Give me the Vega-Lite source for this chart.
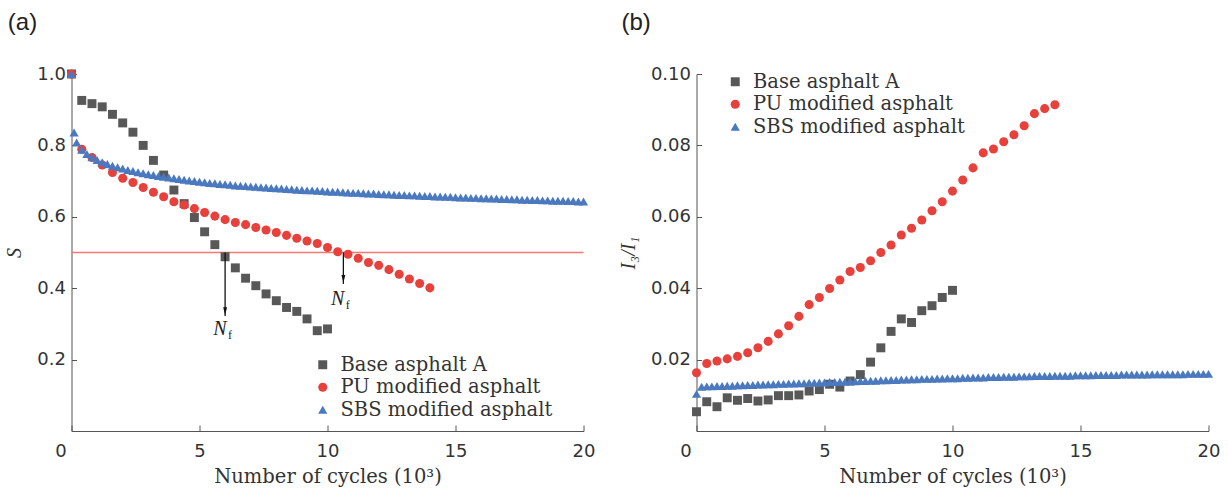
{
  "$schema": "https://vega.github.io/schema/vega-lite/v6.json",
  "padding": {"left": 4.5, "top": 11, "right": 5, "bottom": 5},
  "spacing": 22,
  "background": "white",
  "resolve": {
    "scale": {"color": "independent", "shape": "independent", "size": "independent"},
    "legend": {"color": "independent", "shape": "independent", "size": "independent"}
  },
  "config": {
    "view": {"stroke": null},
    "axis": {
      "grid": false,
      "domainColor": "#555555",
      "tickColor": "#555555",
      "labelColor": "#333333",
      "titleColor": "#333333",
      "labelFont": "DejaVu Sans",
      "labelFontSize": 18,
      "titleFontWeight": "normal"
    },
    "legend": {
      "labelFont": "DejaVu Serif",
      "labelFontSize": 19.5,
      "labelColor": "#333333",
      "labelLimit": 0,
      "symbolSize": 45,
      "rowPadding": 1.5,
      "labelOffset": 8,
      "title": null
    },
    "title": {"font": "Liberation Sans", "fontSize": 24, "fontWeight": "normal", "color": "#222222", "anchor": "start", "frame": "bounds", "dx": 3}
  },
  "datasets": {
    "a": [
      {"x":0,"y":1.0,"s":"Base asphalt A"},{"x":0.4,"y":0.926,"s":"Base asphalt A"},{"x":0.8,"y":0.917,"s":"Base asphalt A"},{"x":1.2,"y":0.908,"s":"Base asphalt A"},{"x":1.6,"y":0.887,"s":"Base asphalt A"},{"x":2.0,"y":0.863,"s":"Base asphalt A"},{"x":2.4,"y":0.837,"s":"Base asphalt A"},{"x":2.8,"y":0.800,"s":"Base asphalt A"},{"x":3.2,"y":0.758,"s":"Base asphalt A"},{"x":3.6,"y":0.717,"s":"Base asphalt A"},{"x":4.0,"y":0.675,"s":"Base asphalt A"},{"x":4.4,"y":0.637,"s":"Base asphalt A"},{"x":4.8,"y":0.598,"s":"Base asphalt A"},{"x":5.2,"y":0.558,"s":"Base asphalt A"},{"x":5.6,"y":0.522,"s":"Base asphalt A"},{"x":6.0,"y":0.488,"s":"Base asphalt A"},{"x":6.4,"y":0.457,"s":"Base asphalt A"},{"x":6.8,"y":0.428,"s":"Base asphalt A"},{"x":7.2,"y":0.407,"s":"Base asphalt A"},{"x":7.6,"y":0.384,"s":"Base asphalt A"},{"x":8.0,"y":0.365,"s":"Base asphalt A"},{"x":8.4,"y":0.346,"s":"Base asphalt A"},{"x":8.8,"y":0.335,"s":"Base asphalt A"},{"x":9.2,"y":0.314,"s":"Base asphalt A"},{"x":9.6,"y":0.281,"s":"Base asphalt A"},{"x":10.0,"y":0.286,"s":"Base asphalt A"},
      {"x":0,"y":1.0,"s":"PU modified asphalt"},{"x":0.4,"y":0.789,"s":"PU modified asphalt"},{"x":0.8,"y":0.766,"s":"PU modified asphalt"},{"x":1.2,"y":0.745,"s":"PU modified asphalt"},{"x":1.6,"y":0.724,"s":"PU modified asphalt"},{"x":2.0,"y":0.708,"s":"PU modified asphalt"},{"x":2.4,"y":0.696,"s":"PU modified asphalt"},{"x":2.8,"y":0.682,"s":"PU modified asphalt"},{"x":3.2,"y":0.669,"s":"PU modified asphalt"},{"x":3.6,"y":0.656,"s":"PU modified asphalt"},{"x":4.0,"y":0.642,"s":"PU modified asphalt"},{"x":4.4,"y":0.633,"s":"PU modified asphalt"},{"x":4.8,"y":0.623,"s":"PU modified asphalt"},{"x":5.2,"y":0.612,"s":"PU modified asphalt"},{"x":5.6,"y":0.602,"s":"PU modified asphalt"},{"x":6.0,"y":0.592,"s":"PU modified asphalt"},{"x":6.4,"y":0.584,"s":"PU modified asphalt"},{"x":6.8,"y":0.578,"s":"PU modified asphalt"},{"x":7.2,"y":0.570,"s":"PU modified asphalt"},{"x":7.6,"y":0.563,"s":"PU modified asphalt"},{"x":8.0,"y":0.556,"s":"PU modified asphalt"},{"x":8.4,"y":0.548,"s":"PU modified asphalt"},{"x":8.8,"y":0.540,"s":"PU modified asphalt"},{"x":9.2,"y":0.532,"s":"PU modified asphalt"},{"x":9.6,"y":0.525,"s":"PU modified asphalt"},{"x":10.0,"y":0.514,"s":"PU modified asphalt"},{"x":10.4,"y":0.502,"s":"PU modified asphalt"},{"x":10.8,"y":0.495,"s":"PU modified asphalt"},{"x":11.2,"y":0.484,"s":"PU modified asphalt"},{"x":11.6,"y":0.472,"s":"PU modified asphalt"},{"x":12.0,"y":0.464,"s":"PU modified asphalt"},{"x":12.4,"y":0.452,"s":"PU modified asphalt"},{"x":12.8,"y":0.439,"s":"PU modified asphalt"},{"x":13.2,"y":0.426,"s":"PU modified asphalt"},{"x":13.6,"y":0.413,"s":"PU modified asphalt"},{"x":14.0,"y":0.401,"s":"PU modified asphalt"},
      {"x":0,"y":1.0,"s":"SBS modified asphalt"},{"x":0.1,"y":0.836,"s":"SBS modified asphalt"},{"x":0.2,"y":0.808,"s":"SBS modified asphalt"},{"x":0.4,"y":0.788,"s":"SBS modified asphalt"},{"x":0.6,"y":0.776,"s":"SBS modified asphalt"},{"x":0.8,"y":0.767,"s":"SBS modified asphalt"},{"x":1.0,"y":0.759,"s":"SBS modified asphalt"},{"x":1.2,"y":0.753,"s":"SBS modified asphalt"},{"x":1.4,"y":0.748,"s":"SBS modified asphalt"},{"x":1.6,"y":0.743,"s":"SBS modified asphalt"},{"x":1.8,"y":0.739,"s":"SBS modified asphalt"},{"x":2.0,"y":0.735,"s":"SBS modified asphalt"},{"x":2.2,"y":0.731,"s":"SBS modified asphalt"},{"x":2.4,"y":0.728,"s":"SBS modified asphalt"},{"x":2.6,"y":0.725,"s":"SBS modified asphalt"},{"x":2.8,"y":0.722,"s":"SBS modified asphalt"},{"x":3.0,"y":0.719,"s":"SBS modified asphalt"},{"x":3.2,"y":0.717,"s":"SBS modified asphalt"},{"x":3.4,"y":0.714,"s":"SBS modified asphalt"},{"x":3.6,"y":0.712,"s":"SBS modified asphalt"},{"x":3.8,"y":0.710,"s":"SBS modified asphalt"},{"x":4.0,"y":0.708,"s":"SBS modified asphalt"},{"x":4.2,"y":0.706,"s":"SBS modified asphalt"},{"x":4.4,"y":0.704,"s":"SBS modified asphalt"},{"x":4.6,"y":0.702,"s":"SBS modified asphalt"},{"x":4.8,"y":0.700,"s":"SBS modified asphalt"},{"x":5.0,"y":0.698,"s":"SBS modified asphalt"},{"x":5.2,"y":0.697,"s":"SBS modified asphalt"},{"x":5.4,"y":0.695,"s":"SBS modified asphalt"},{"x":5.6,"y":0.694,"s":"SBS modified asphalt"},{"x":5.8,"y":0.692,"s":"SBS modified asphalt"},{"x":6.0,"y":0.691,"s":"SBS modified asphalt"},{"x":6.2,"y":0.690,"s":"SBS modified asphalt"},{"x":6.4,"y":0.688,"s":"SBS modified asphalt"},{"x":6.6,"y":0.687,"s":"SBS modified asphalt"},{"x":6.8,"y":0.686,"s":"SBS modified asphalt"},{"x":7.0,"y":0.685,"s":"SBS modified asphalt"},{"x":7.2,"y":0.684,"s":"SBS modified asphalt"},{"x":7.4,"y":0.683,"s":"SBS modified asphalt"},{"x":7.6,"y":0.682,"s":"SBS modified asphalt"},{"x":7.8,"y":0.681,"s":"SBS modified asphalt"},{"x":8.0,"y":0.680,"s":"SBS modified asphalt"},{"x":8.2,"y":0.679,"s":"SBS modified asphalt"},{"x":8.4,"y":0.678,"s":"SBS modified asphalt"},{"x":8.6,"y":0.677,"s":"SBS modified asphalt"},{"x":8.8,"y":0.676,"s":"SBS modified asphalt"},{"x":9.0,"y":0.675,"s":"SBS modified asphalt"},{"x":9.2,"y":0.674,"s":"SBS modified asphalt"},{"x":9.4,"y":0.674,"s":"SBS modified asphalt"},{"x":9.6,"y":0.673,"s":"SBS modified asphalt"},{"x":9.8,"y":0.672,"s":"SBS modified asphalt"},{"x":10.0,"y":0.671,"s":"SBS modified asphalt"},{"x":10.2,"y":0.670,"s":"SBS modified asphalt"},{"x":10.4,"y":0.670,"s":"SBS modified asphalt"},{"x":10.6,"y":0.669,"s":"SBS modified asphalt"},{"x":10.8,"y":0.668,"s":"SBS modified asphalt"},{"x":11.0,"y":0.667,"s":"SBS modified asphalt"},{"x":11.2,"y":0.667,"s":"SBS modified asphalt"},{"x":11.4,"y":0.666,"s":"SBS modified asphalt"},{"x":11.6,"y":0.665,"s":"SBS modified asphalt"},{"x":11.8,"y":0.665,"s":"SBS modified asphalt"},{"x":12.0,"y":0.664,"s":"SBS modified asphalt"},{"x":12.2,"y":0.663,"s":"SBS modified asphalt"},{"x":12.4,"y":0.663,"s":"SBS modified asphalt"},{"x":12.6,"y":0.662,"s":"SBS modified asphalt"},{"x":12.8,"y":0.661,"s":"SBS modified asphalt"},{"x":13.0,"y":0.661,"s":"SBS modified asphalt"},{"x":13.2,"y":0.660,"s":"SBS modified asphalt"},{"x":13.4,"y":0.660,"s":"SBS modified asphalt"},{"x":13.6,"y":0.659,"s":"SBS modified asphalt"},{"x":13.8,"y":0.658,"s":"SBS modified asphalt"},{"x":14.0,"y":0.658,"s":"SBS modified asphalt"},{"x":14.2,"y":0.657,"s":"SBS modified asphalt"},{"x":14.4,"y":0.657,"s":"SBS modified asphalt"},{"x":14.6,"y":0.656,"s":"SBS modified asphalt"},{"x":14.8,"y":0.656,"s":"SBS modified asphalt"},{"x":15.0,"y":0.655,"s":"SBS modified asphalt"},{"x":15.2,"y":0.654,"s":"SBS modified asphalt"},{"x":15.4,"y":0.654,"s":"SBS modified asphalt"},{"x":15.6,"y":0.653,"s":"SBS modified asphalt"},{"x":15.8,"y":0.653,"s":"SBS modified asphalt"},{"x":16.0,"y":0.652,"s":"SBS modified asphalt"},{"x":16.2,"y":0.652,"s":"SBS modified asphalt"},{"x":16.4,"y":0.651,"s":"SBS modified asphalt"},{"x":16.6,"y":0.651,"s":"SBS modified asphalt"},{"x":16.8,"y":0.650,"s":"SBS modified asphalt"},{"x":17.0,"y":0.650,"s":"SBS modified asphalt"},{"x":17.2,"y":0.649,"s":"SBS modified asphalt"},{"x":17.4,"y":0.649,"s":"SBS modified asphalt"},{"x":17.6,"y":0.648,"s":"SBS modified asphalt"},{"x":17.8,"y":0.648,"s":"SBS modified asphalt"},{"x":18.0,"y":0.647,"s":"SBS modified asphalt"},{"x":18.2,"y":0.647,"s":"SBS modified asphalt"},{"x":18.4,"y":0.646,"s":"SBS modified asphalt"},{"x":18.6,"y":0.646,"s":"SBS modified asphalt"},{"x":18.8,"y":0.645,"s":"SBS modified asphalt"},{"x":19.0,"y":0.645,"s":"SBS modified asphalt"},{"x":19.2,"y":0.645,"s":"SBS modified asphalt"},{"x":19.4,"y":0.644,"s":"SBS modified asphalt"},{"x":19.6,"y":0.644,"s":"SBS modified asphalt"},{"x":19.8,"y":0.643,"s":"SBS modified asphalt"},{"x":20.0,"y":0.643,"s":"SBS modified asphalt"}
    ],
    "b": [
      {"x":0,"y":0.0054,"s":"Base asphalt A"},{"x":0.4,"y":0.0082,"s":"Base asphalt A"},{"x":0.8,"y":0.0068,"s":"Base asphalt A"},{"x":1.2,"y":0.0093,"s":"Base asphalt A"},{"x":1.6,"y":0.0086,"s":"Base asphalt A"},{"x":2.0,"y":0.0091,"s":"Base asphalt A"},{"x":2.4,"y":0.0084,"s":"Base asphalt A"},{"x":2.8,"y":0.0087,"s":"Base asphalt A"},{"x":3.2,"y":0.0099,"s":"Base asphalt A"},{"x":3.6,"y":0.0099,"s":"Base asphalt A"},{"x":4.0,"y":0.0101,"s":"Base asphalt A"},{"x":4.4,"y":0.0112,"s":"Base asphalt A"},{"x":4.8,"y":0.0116,"s":"Base asphalt A"},{"x":5.2,"y":0.0131,"s":"Base asphalt A"},{"x":5.6,"y":0.0123,"s":"Base asphalt A"},{"x":6.0,"y":0.0140,"s":"Base asphalt A"},{"x":6.4,"y":0.0158,"s":"Base asphalt A"},{"x":6.8,"y":0.0193,"s":"Base asphalt A"},{"x":7.2,"y":0.0233,"s":"Base asphalt A"},{"x":7.6,"y":0.0279,"s":"Base asphalt A"},{"x":8.0,"y":0.0314,"s":"Base asphalt A"},{"x":8.4,"y":0.0304,"s":"Base asphalt A"},{"x":8.8,"y":0.0337,"s":"Base asphalt A"},{"x":9.2,"y":0.0351,"s":"Base asphalt A"},{"x":9.6,"y":0.0374,"s":"Base asphalt A"},{"x":10.0,"y":0.0394,"s":"Base asphalt A"},
      {"x":0,"y":0.0163,"s":"PU modified asphalt"},{"x":0.4,"y":0.0189,"s":"PU modified asphalt"},{"x":0.8,"y":0.0196,"s":"PU modified asphalt"},{"x":1.2,"y":0.0202,"s":"PU modified asphalt"},{"x":1.6,"y":0.0209,"s":"PU modified asphalt"},{"x":2.0,"y":0.0219,"s":"PU modified asphalt"},{"x":2.4,"y":0.0233,"s":"PU modified asphalt"},{"x":2.8,"y":0.0251,"s":"PU modified asphalt"},{"x":3.2,"y":0.0272,"s":"PU modified asphalt"},{"x":3.6,"y":0.0295,"s":"PU modified asphalt"},{"x":4.0,"y":0.0321,"s":"PU modified asphalt"},{"x":4.4,"y":0.0354,"s":"PU modified asphalt"},{"x":4.8,"y":0.0374,"s":"PU modified asphalt"},{"x":5.2,"y":0.0399,"s":"PU modified asphalt"},{"x":5.6,"y":0.0423,"s":"PU modified asphalt"},{"x":6.0,"y":0.0447,"s":"PU modified asphalt"},{"x":6.4,"y":0.0458,"s":"PU modified asphalt"},{"x":6.8,"y":0.0477,"s":"PU modified asphalt"},{"x":7.2,"y":0.0500,"s":"PU modified asphalt"},{"x":7.6,"y":0.0521,"s":"PU modified asphalt"},{"x":8.0,"y":0.0549,"s":"PU modified asphalt"},{"x":8.4,"y":0.0568,"s":"PU modified asphalt"},{"x":8.8,"y":0.0591,"s":"PU modified asphalt"},{"x":9.2,"y":0.0617,"s":"PU modified asphalt"},{"x":9.6,"y":0.0642,"s":"PU modified asphalt"},{"x":10.0,"y":0.0672,"s":"PU modified asphalt"},{"x":10.4,"y":0.0703,"s":"PU modified asphalt"},{"x":10.8,"y":0.0737,"s":"PU modified asphalt"},{"x":11.2,"y":0.0779,"s":"PU modified asphalt"},{"x":11.6,"y":0.0790,"s":"PU modified asphalt"},{"x":12.0,"y":0.0810,"s":"PU modified asphalt"},{"x":12.4,"y":0.0830,"s":"PU modified asphalt"},{"x":12.8,"y":0.0855,"s":"PU modified asphalt"},{"x":13.2,"y":0.0889,"s":"PU modified asphalt"},{"x":13.6,"y":0.0903,"s":"PU modified asphalt"},{"x":14.0,"y":0.0914,"s":"PU modified asphalt"},
      {"x":0,"y":0.0104,"s":"SBS modified asphalt"},{"x":0.2,"y":0.0124,"s":"SBS modified asphalt"},{"x":0.4,"y":0.0125,"s":"SBS modified asphalt"},{"x":0.6,"y":0.0125,"s":"SBS modified asphalt"},{"x":0.8,"y":0.0126,"s":"SBS modified asphalt"},{"x":1.0,"y":0.0126,"s":"SBS modified asphalt"},{"x":1.2,"y":0.0127,"s":"SBS modified asphalt"},{"x":1.4,"y":0.0127,"s":"SBS modified asphalt"},{"x":1.6,"y":0.0128,"s":"SBS modified asphalt"},{"x":1.8,"y":0.0128,"s":"SBS modified asphalt"},{"x":2.0,"y":0.0129,"s":"SBS modified asphalt"},{"x":2.2,"y":0.0129,"s":"SBS modified asphalt"},{"x":2.4,"y":0.0130,"s":"SBS modified asphalt"},{"x":2.6,"y":0.0130,"s":"SBS modified asphalt"},{"x":2.8,"y":0.0131,"s":"SBS modified asphalt"},{"x":3.0,"y":0.0131,"s":"SBS modified asphalt"},{"x":3.2,"y":0.0132,"s":"SBS modified asphalt"},{"x":3.4,"y":0.0132,"s":"SBS modified asphalt"},{"x":3.6,"y":0.0133,"s":"SBS modified asphalt"},{"x":3.8,"y":0.0133,"s":"SBS modified asphalt"},{"x":4.0,"y":0.0134,"s":"SBS modified asphalt"},{"x":4.2,"y":0.0134,"s":"SBS modified asphalt"},{"x":4.4,"y":0.0135,"s":"SBS modified asphalt"},{"x":4.6,"y":0.0135,"s":"SBS modified asphalt"},{"x":4.8,"y":0.0136,"s":"SBS modified asphalt"},{"x":5.0,"y":0.0136,"s":"SBS modified asphalt"},{"x":5.2,"y":0.0137,"s":"SBS modified asphalt"},{"x":5.4,"y":0.0137,"s":"SBS modified asphalt"},{"x":5.6,"y":0.0138,"s":"SBS modified asphalt"},{"x":5.8,"y":0.0138,"s":"SBS modified asphalt"},{"x":6.0,"y":0.0139,"s":"SBS modified asphalt"},{"x":6.2,"y":0.0139,"s":"SBS modified asphalt"},{"x":6.4,"y":0.0140,"s":"SBS modified asphalt"},{"x":6.6,"y":0.0140,"s":"SBS modified asphalt"},{"x":6.8,"y":0.0141,"s":"SBS modified asphalt"},{"x":7.0,"y":0.0141,"s":"SBS modified asphalt"},{"x":7.2,"y":0.0142,"s":"SBS modified asphalt"},{"x":7.4,"y":0.0142,"s":"SBS modified asphalt"},{"x":7.6,"y":0.0143,"s":"SBS modified asphalt"},{"x":7.8,"y":0.0143,"s":"SBS modified asphalt"},{"x":8.0,"y":0.0144,"s":"SBS modified asphalt"},{"x":8.2,"y":0.0144,"s":"SBS modified asphalt"},{"x":8.4,"y":0.0145,"s":"SBS modified asphalt"},{"x":8.6,"y":0.0145,"s":"SBS modified asphalt"},{"x":8.8,"y":0.0146,"s":"SBS modified asphalt"},{"x":9.0,"y":0.0146,"s":"SBS modified asphalt"},{"x":9.2,"y":0.0146,"s":"SBS modified asphalt"},{"x":9.4,"y":0.0147,"s":"SBS modified asphalt"},{"x":9.6,"y":0.0147,"s":"SBS modified asphalt"},{"x":9.8,"y":0.0148,"s":"SBS modified asphalt"},{"x":10.0,"y":0.0148,"s":"SBS modified asphalt"},{"x":10.2,"y":0.0148,"s":"SBS modified asphalt"},{"x":10.4,"y":0.0149,"s":"SBS modified asphalt"},{"x":10.6,"y":0.0149,"s":"SBS modified asphalt"},{"x":10.8,"y":0.0150,"s":"SBS modified asphalt"},{"x":11.0,"y":0.0150,"s":"SBS modified asphalt"},{"x":11.2,"y":0.0150,"s":"SBS modified asphalt"},{"x":11.4,"y":0.0151,"s":"SBS modified asphalt"},{"x":11.6,"y":0.0151,"s":"SBS modified asphalt"},{"x":11.8,"y":0.0151,"s":"SBS modified asphalt"},{"x":12.0,"y":0.0152,"s":"SBS modified asphalt"},{"x":12.2,"y":0.0152,"s":"SBS modified asphalt"},{"x":12.4,"y":0.0152,"s":"SBS modified asphalt"},{"x":12.6,"y":0.0153,"s":"SBS modified asphalt"},{"x":12.8,"y":0.0153,"s":"SBS modified asphalt"},{"x":13.0,"y":0.0153,"s":"SBS modified asphalt"},{"x":13.2,"y":0.0154,"s":"SBS modified asphalt"},{"x":13.4,"y":0.0154,"s":"SBS modified asphalt"},{"x":13.6,"y":0.0154,"s":"SBS modified asphalt"},{"x":13.8,"y":0.0154,"s":"SBS modified asphalt"},{"x":14.0,"y":0.0155,"s":"SBS modified asphalt"},{"x":14.2,"y":0.0155,"s":"SBS modified asphalt"},{"x":14.4,"y":0.0155,"s":"SBS modified asphalt"},{"x":14.6,"y":0.0155,"s":"SBS modified asphalt"},{"x":14.8,"y":0.0156,"s":"SBS modified asphalt"},{"x":15.0,"y":0.0156,"s":"SBS modified asphalt"},{"x":15.2,"y":0.0156,"s":"SBS modified asphalt"},{"x":15.4,"y":0.0156,"s":"SBS modified asphalt"},{"x":15.6,"y":0.0157,"s":"SBS modified asphalt"},{"x":15.8,"y":0.0157,"s":"SBS modified asphalt"},{"x":16.0,"y":0.0157,"s":"SBS modified asphalt"},{"x":16.2,"y":0.0157,"s":"SBS modified asphalt"},{"x":16.4,"y":0.0157,"s":"SBS modified asphalt"},{"x":16.6,"y":0.0158,"s":"SBS modified asphalt"},{"x":16.8,"y":0.0158,"s":"SBS modified asphalt"},{"x":17.0,"y":0.0158,"s":"SBS modified asphalt"},{"x":17.2,"y":0.0158,"s":"SBS modified asphalt"},{"x":17.4,"y":0.0158,"s":"SBS modified asphalt"},{"x":17.6,"y":0.0158,"s":"SBS modified asphalt"},{"x":17.8,"y":0.0159,"s":"SBS modified asphalt"},{"x":18.0,"y":0.0159,"s":"SBS modified asphalt"},{"x":18.2,"y":0.0159,"s":"SBS modified asphalt"},{"x":18.4,"y":0.0159,"s":"SBS modified asphalt"},{"x":18.6,"y":0.0159,"s":"SBS modified asphalt"},{"x":18.8,"y":0.0159,"s":"SBS modified asphalt"},{"x":19.0,"y":0.0159,"s":"SBS modified asphalt"},{"x":19.2,"y":0.0160,"s":"SBS modified asphalt"},{"x":19.4,"y":0.0160,"s":"SBS modified asphalt"},{"x":19.6,"y":0.0160,"s":"SBS modified asphalt"},{"x":19.8,"y":0.0160,"s":"SBS modified asphalt"},{"x":20.0,"y":0.0160,"s":"SBS modified asphalt"}
    ],
    "ref": [{"x":0,"x2":20,"y":0.5}],
    "arrows": [{"x":6.0,"y":0.5,"y2":0.322,"yh":0.336},{"x":10.62,"y":0.5,"y2":0.412,"yh":0.426}],
    "nf": [{"x":5.8,"y":0.286},{"x":10.4,"y":0.37}]
  },
  "hconcat": [
    {
      "width": 512,
      "height": 357,
      "title": {"text": "(a)", "offset": 30},
      "layer": [
        {
          "data": {"name": "ref"},
          "mark": {"type": "rule", "color": "#f27a72", "strokeWidth": 1.5},
          "encoding": {
            "x": {"field": "x", "type": "quantitative"},
            "x2": {"field": "x2"},
            "y": {"field": "y", "type": "quantitative"}
          }
        },
        {
          "data": {"name": "a"},
          "mark": {"type": "point", "filled": true, "opacity": 1},
          "encoding": {
            "x": {
              "field": "x", "type": "quantitative",
              "scale": {"domain": [0, 20], "nice": false, "zero": false},
              "axis": {
                "title": "Number of cycles (10³)", "titleFont": "DejaVu Serif", "titleFontSize": 19.5, "titlePadding": 7,
                "values": [0, 5, 10, 15, 20], "tickSize": -6, "labelPadding": 17, "labelFlush": false,
                "labelOffset": {"expr": "datum.value === 0 ? -11 : 0"}
              }
            },
            "y": {
              "field": "y", "type": "quantitative",
              "scale": {"domain": [0, 1], "nice": false},
              "axis": {
                "title": "S", "titleFont": "Liberation Serif", "titleFontStyle": "italic", "titleFontSize": 20, "titlePadding": 12,
                "values": [0.2, 0.4, 0.6, 0.8, 1.0], "format": ".1f", "tickSize": -5, "labelPadding": 11
              }
            },
            "color": {
              "field": "s", "type": "nominal",
              "scale": {"domain": ["Base asphalt A", "PU modified asphalt", "SBS modified asphalt"], "range": ["#585858", "#e8413c", "#4b79bf"]},
              "legend": {"orient": "none", "legendX": 241.5, "legendY": 281}
            },
            "shape": {
              "field": "s", "type": "nominal",
              "scale": {"domain": ["Base asphalt A", "PU modified asphalt", "SBS modified asphalt"], "range": ["square", "circle", "triangle-up"]},
              "legend": {"orient": "none", "legendX": 241.5, "legendY": 281}
            },
            "size": {
              "field": "s", "type": "nominal",
              "scale": {"domain": ["Base asphalt A", "PU modified asphalt", "SBS modified asphalt"], "range": [80, 85, 120]},
              "legend": null
            }
          }
        },
        {
          "data": {"name": "arrows"},
          "mark": {"type": "rule", "color": "#111111", "strokeWidth": 1.3},
          "encoding": {
            "x": {"field": "x", "type": "quantitative"},
            "y": {"field": "y", "type": "quantitative"},
            "y2": {"field": "y2"}
          }
        },
        {
          "data": {"name": "arrows"},
          "mark": {"type": "point", "filled": true, "shape": "M -0.5 -1 L 0.5 -1 L 0 1 Z", "size": 60, "color": "#111111", "opacity": 1},
          "encoding": {
            "x": {"field": "x", "type": "quantitative"},
            "y": {"field": "yh", "type": "quantitative"}
          }
        },
        {
          "data": {"name": "nf"},
          "mark": {"type": "text", "text": "N", "font": "Liberation Serif", "fontStyle": "italic", "fontSize": 20, "color": "#222222"},
          "encoding": {
            "x": {"field": "x", "type": "quantitative"},
            "y": {"field": "y", "type": "quantitative"}
          }
        },
        {
          "data": {"name": "nf"},
          "mark": {"type": "text", "text": "f", "font": "Liberation Serif", "fontSize": 12, "color": "#222222", "dx": 10, "dy": 6},
          "encoding": {
            "x": {"field": "x", "type": "quantitative"},
            "y": {"field": "y", "type": "quantitative"}
          }
        }
      ]
    },
    {
      "width": 512,
      "height": 357,
      "title": {"text": "(b)", "offset": 30},
      "layer": [
        {
          "data": {"name": "b"},
          "mark": {"type": "point", "filled": true, "opacity": 1},
          "encoding": {
            "x": {
              "field": "x", "type": "quantitative",
              "scale": {"domain": [0, 20], "nice": false, "zero": false},
              "axis": {
                "title": "Number of cycles (10³)", "titleFont": "DejaVu Serif", "titleFontSize": 19.5, "titlePadding": 7,
                "values": [0, 5, 10, 15, 20], "tickSize": -6, "labelPadding": 17, "labelFlush": false,
                "labelOffset": {"expr": "datum.value === 0 ? -11 : 0"}
              }
            },
            "y": {
              "field": "y", "type": "quantitative",
              "scale": {"domain": [0, 0.1], "nice": false},
              "axis": {
                "title": "I₃/I₁", "titleFont": "Liberation Serif", "titleFontStyle": "italic", "titleFontSize": 20, "titlePadding": 12,
                "values": [0.02, 0.04, 0.06, 0.08, 0.1], "format": ".2f", "tickSize": -5, "labelPadding": 11
              }
            },
            "color": {
              "field": "s", "type": "nominal",
              "scale": {"domain": ["Base asphalt A", "PU modified asphalt", "SBS modified asphalt"], "range": ["#585858", "#e8413c", "#4b79bf"]},
              "legend": {"orient": "none", "legendX": 29, "legendY": -2}
            },
            "shape": {
              "field": "s", "type": "nominal",
              "scale": {"domain": ["Base asphalt A", "PU modified asphalt", "SBS modified asphalt"], "range": ["square", "circle", "triangle-up"]},
              "legend": {"orient": "none", "legendX": 29, "legendY": -2}
            },
            "size": {
              "field": "s", "type": "nominal",
              "scale": {"domain": ["Base asphalt A", "PU modified asphalt", "SBS modified asphalt"], "range": [80, 85, 120]},
              "legend": null
            }
          }
        }
      ]
    }
  ]
}
